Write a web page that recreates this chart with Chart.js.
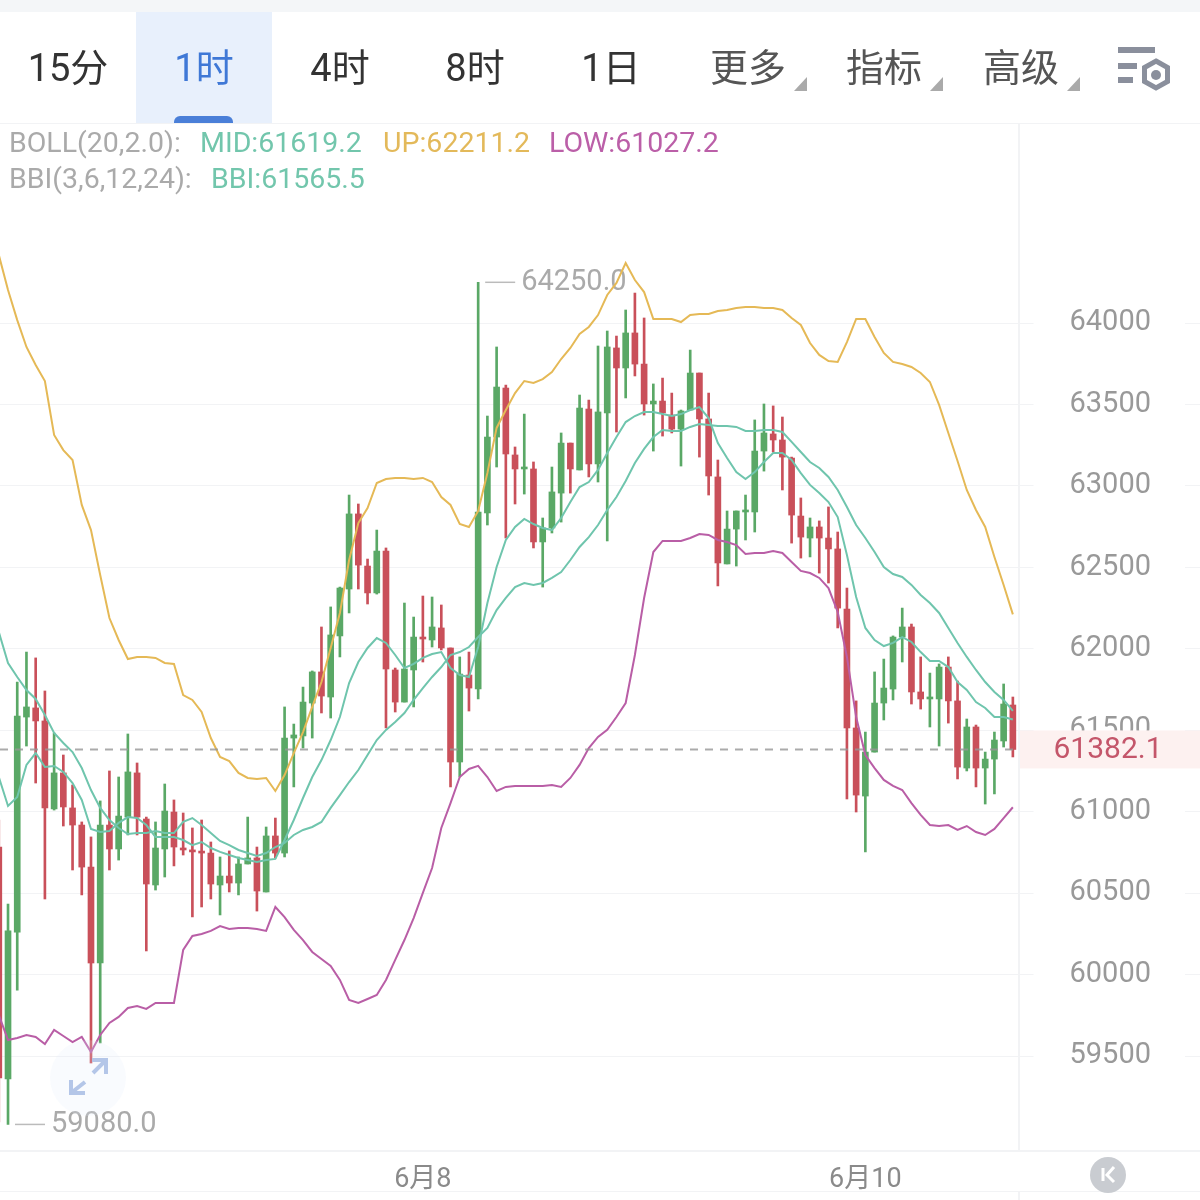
<!DOCTYPE html>
<html>
<head>
<meta charset="utf-8">
<title>BTC 1h</title>
<script src="https://cdn.jsdelivr.net/npm/chart.js@4/dist/chart.umd.js"></script>
<style>
  html, body { margin: 0; padding: 0; background: #fff; }
  #page {
    position: relative; width: 1200px; height: 1200px; overflow: hidden;
    font-family: Roboto, "Noto Sans CJK SC", sans-serif;
  }
  #kline { position: absolute; left: 0; top: 0; }
  .strip { position: absolute; left: 0; top: 0; width: 1200px; height: 12px; background: #f4f6f8; }
  .active { position: absolute; left: 136px; top: 12px; width: 136px; height: 111px; background: #e8f0fc; }
  .marker { position: absolute; left: 174px; top: 116px; width: 59px; height: 7px; background: #4a7fd8; border-radius: 6px 6px 0 0; }
  .rule { position: absolute; background: #f2f3f5; }
  .tab {
    position: absolute; top: 68px; transform: translate(-50%, -50%);
    font-size: 38px; line-height: 44px; color: #333; white-space: nowrap;
  }
  .tab.more { color: #555; }
  .tab.on { color: #3f78d6; }
  .legend { position: absolute; font-size: 28.5px; line-height: 34px; white-space: nowrap; }
  svg { position: absolute; left: 0; top: 0; pointer-events: none; }
</style>
</head>
<body>
<div id="page">
  <canvas id="kline" width="1200" height="1200"></canvas>

  <div class="strip"></div>
  <div class="active"></div>
  <div class="marker"></div>
  <div class="rule" style="left:0;top:123px;width:1200px;height:1px"></div>
  <div class="rule" style="left:0;top:1150px;width:1200px;height:2px"></div>
  <div class="rule" style="left:0;top:1191px;width:1200px;height:1px"></div>
  <div class="rule" style="left:1018px;top:123px;width:2px;height:1027px"></div>
  <div class="rule" style="left:1018px;top:1191px;width:2px;height:9px"></div>

  <div class="tab" style="left:68px">15分</div>
  <div class="tab on" style="left:204px">1时</div>
  <div class="tab" style="left:340px">4时</div>
  <div class="tab" style="left:475px">8时</div>
  <div class="tab" style="left:611px">1日</div>
  <div class="tab more" style="left:748px">更多</div>
  <div class="tab more" style="left:884px">指标</div>
  <div class="tab more" style="left:1021px">高级</div>

  <div class="legend" style="left:9px;top:126px;color:#aaa">BOLL(20,2.0):</div>
  <div class="legend" style="left:200px;top:126px;color:#72c6ac">MID:61619.2</div>
  <div class="legend" style="left:383px;top:126px;color:#e3b95a">UP:62211.2</div>
  <div class="legend" style="left:549px;top:126px;color:#bb5fa8">LOW:61027.2</div>
  <div class="legend" style="left:9px;top:162px;color:#aaa">BBI(3,6,12,24):</div>
  <div class="legend" style="left:211px;top:162px;color:#72c6ac">BBI:61565.5</div>

  <svg width="1200" height="1200">
    <!-- dropdown corners -->
    <polygon points="807,77 807,91 794,91" fill="#aaa"/>
    <polygon points="943,77 943,91 930,91" fill="#aaa"/>
    <polygon points="1080,77 1080,91 1067,91" fill="#aaa"/>
    <!-- settings icon -->
    <rect x="1118" y="47" width="37" height="6" fill="#8a8f9c"/>
    <rect x="1118" y="63" width="19" height="6" fill="#8a8f9c"/>
    <rect x="1118" y="77" width="15" height="6" fill="#8a8f9c"/>
    <polygon points="1156,61 1167.5,67.5 1167.5,81.5 1156,88 1144.5,81.5 1144.5,67.5" fill="none" stroke="#8a8f9c" stroke-width="5"/>
    <circle cx="1156" cy="75" r="5" fill="#8a8f9c"/>
    <!-- expand button -->
    <circle cx="88" cy="1078" r="38" fill="#e3ebfa" fill-opacity="0.22"/>
    <g fill="none" stroke="#b4c6e8" stroke-width="4">
      <path d="M92 1060 H106 V1074 M106 1060 L93 1073"/>
      <path d="M71 1080 V1093 H85 M71 1093 L85 1082"/>
    </g>
    <!-- collapse button -->
    <circle cx="1108" cy="1175" r="18" fill="#c9ccd1"/>
    <path d="M1103 1168 V1181" stroke="#fff" stroke-width="3" fill="none"/>
    <path d="M1114 1167 L1107 1175 L1114 1182" stroke="#fff" stroke-width="3" fill="none"/>
  </svg>
</div>

<script>
const opens = [
  60783, 59359, 60261, 61581, 61637, 61557, 61017, 61238, 61023, 60918,
  60660, 60071, 60918, 60771, 60967, 61238, 60955, 60550, 60771, 60998,
  60777, 60759, 60753, 60746, 60550, 60605, 60562, 60679, 60716, 60507,
  60851, 60746, 61452, 61465, 61667, 61858, 61704, 62079, 62367, 62828,
  62508, 62343, 62600, 61870, 61673, 61870, 62072, 62054, 62128, 62005,
  61305, 61839, 61753, 62834, 63300, 63601, 63190, 63104, 63104, 62656,
  62742, 62956, 63263, 63098, 63472, 63135, 63448, 63847, 63724, 63939,
  63748, 63503, 63521, 63435, 63349, 63466, 63693, 63411, 63055, 62521,
  62735, 62840, 62840, 63214, 63319, 63282, 63171, 62815, 62680, 62748,
  62680, 62613, 62244, 61514, 61096, 61366, 61667, 61753, 62072, 62134,
  61735, 61692, 61692, 61888, 61680, 61268, 61520, 61268, 61323, 61434, 61655
]
const closes = [
  59365, 60268, 61587, 61643, 61557, 61023, 61238, 61029, 60918, 60660,
  60071, 60918, 60771, 60973, 61244, 60967, 60556, 60777, 61004, 60783,
  60765, 60753, 60746, 60556, 60605, 60562, 60679, 60716, 60513, 60851,
  60746, 61452, 61471, 61673, 61858, 61710, 62085, 62373, 62828, 62514,
  62343, 62600, 61876, 61673, 61876, 62072, 62060, 62134, 62005, 61305,
  61845, 61759, 62840, 63300, 63607, 63196, 63104, 63110, 62656, 62742,
  62963, 63263, 63104, 63478, 63135, 63454, 63853, 63724, 63939, 63748,
  63503, 63521, 63448, 63349, 63460, 63693, 63411, 63061, 62527, 62735,
  62846, 62846, 63214, 63325, 63282, 63177, 62821, 62686, 62748, 62680,
  62613, 62250, 61514, 61102, 61366, 61667, 61759, 62072, 62134, 61735,
  61692, 61698, 61888, 61680, 61274, 61520, 61268, 61323, 61440, 61661, 61382.1
]
const highs = [
  60949, 60433, 61796, 61980, 61944, 61741, 61483, 61348, 61164, 60937,
  60845, 61066, 61250, 61213, 61477, 61299, 60967, 60937, 61170, 61072,
  60992, 60900, 60949, 60814, 60722, 60759, 60722, 60967, 60783, 60906,
  60961, 61643, 61538, 61765, 61864, 62134, 62257, 62379, 62944, 62889,
  62551, 62729, 62619, 61882, 62281, 62195, 62324, 62318, 62269, 62005,
  61950, 61980, 64250, 63429, 63853, 63619, 63239, 63441, 63147, 62803,
  63116, 63325, 63263, 63558, 63527, 63859, 63951, 63920, 64080, 64184,
  64031, 63626, 63662, 63570, 63466, 63834, 63693, 63570, 63159, 62846,
  62846, 62944, 63405, 63503, 63491, 63423, 63177, 62926, 62803, 62785,
  62871, 62717, 62373, 61680, 61489, 61858, 61937, 62079, 62250, 62152,
  61950, 61851, 61907, 61950, 61802, 61569, 61532, 61366, 61489, 61784, 61704
]
const lows = [
  59095, 59080, 59905, 61403, 61176, 60464, 61010, 60912, 60642, 60489,
  59457, 59580, 60642, 60703, 60857, 60857, 60145, 60519, 60599, 60667,
  60734, 60354, 60415, 60464, 60366, 60507, 60489, 60679, 60390, 60507,
  60716, 60722, 61152, 61391, 61452, 61606, 61575, 61950, 62220, 62367,
  62275, 62336, 61514, 61612, 61673, 61643, 61919, 62011, 61993, 61152,
  61213, 61618, 61692, 62760, 63116, 62680, 62889, 62950, 62619, 62379,
  62711, 62778, 62956, 63098, 63055, 63024, 62662, 63331, 63540, 63675,
  63435, 63214, 63306, 63325, 63122, 63466, 63177, 62944, 62386, 62521,
  62508, 62668, 62717, 63091, 63208, 62975, 62649, 62557, 62564, 62465,
  62404, 62128, 61078, 60998, 60753, 61366, 61563, 61686, 61919, 61661,
  61630, 61520, 61403, 61544, 61201, 61250, 61152, 61047, 61109, 61397, 61336
]

const bollUp = [
  64418, 64203, 64018, 63853, 63742, 63644, 63313, 63220, 63159, 62883,
  62729, 62453, 62189, 62054, 61937, 61950, 61950, 61944, 61913, 61907,
  61716, 61686, 61612, 61452, 61336, 61311, 61238, 61207, 61201, 61207,
  61127, 61225, 61360, 61489, 61643, 61796, 62005, 62220, 62545, 62772,
  62864, 63018, 63042, 63049, 63049, 63042, 63049, 63024, 62932, 62883,
  62766, 62748, 62846, 63079, 63356, 63466, 63570, 63644, 63632, 63656,
  63699, 63779, 63847, 63933, 63976, 64049, 64172, 64246, 64368, 64264,
  64190, 64025, 64025, 64025, 64006, 64049, 64055, 64055, 64074, 64080,
  64092, 64098, 64098, 64092, 64092, 64080, 64031, 63988, 63877, 63804,
  63767, 63761, 63883, 64025, 64025, 63914, 63816, 63761, 63748, 63730,
  63693, 63638, 63497, 63325, 63153, 62975, 62852, 62748, 62564, 62392, 62211.2
]
const bollMid = [
  62103, 61913, 61827, 61747, 61692, 61594, 61483, 61422, 61366, 61268,
  61133, 61023, 60949, 60900, 60863, 60869, 60869, 60881, 60869, 60869,
  60937, 60961, 60918, 60869, 60820, 60795, 60765, 60746, 60728, 60746,
  60783, 60808, 60857, 60888, 60906, 60937, 61023, 61102, 61182, 61256,
  61348, 61440, 61502, 61551, 61606, 61686, 61759, 61827, 61888, 61962,
  61980, 62011, 62072, 62128, 62238, 62312, 62379, 62404, 62392, 62404,
  62435, 62471, 62545, 62625, 62686, 62760, 62852, 62932, 63030, 63141,
  63227, 63300, 63343, 63337, 63337, 63362, 63380, 63374, 63368, 63368,
  63362, 63337, 63337, 63343, 63343, 63331, 63270, 63208, 63147, 63110,
  63055, 62975, 62871, 62760, 62680, 62594, 62502, 62459, 62441, 62392,
  62330, 62281, 62220, 62128, 62036, 61950, 61870, 61796, 61735, 61686, 61619.2
]
const bollLow = [
  59752, 59598, 59611, 59629, 59617, 59574, 59660, 59623, 59586, 59617,
  59525, 59629, 59703, 59740, 59795, 59807, 59789, 59826, 59826, 59826,
  60151, 60237, 60249, 60268, 60298, 60280, 60286, 60286, 60280, 60268,
  60415, 60353, 60274, 60212, 60139, 60096, 60053, 59967, 59844, 59826,
  59850, 59875, 59967, 60090, 60212, 60347, 60501, 60654, 60900, 61053,
  61213, 61262, 61281, 61213, 61127, 61152, 61158, 61158, 61158, 61158,
  61164, 61152, 61207, 61287, 61391, 61459, 61502, 61581, 61667, 61962,
  62312, 62594, 62662, 62662, 62662, 62680, 62705, 62699, 62668, 62656,
  62637, 62582, 62588, 62588, 62600, 62588, 62533, 62478, 62465, 62435,
  62373, 62226, 61950, 61581, 61348, 61268, 61195, 61158, 61133, 61053,
  60980, 60918, 60912, 60918, 60888, 60912, 60875, 60857, 60894, 60961, 61027.2
]
const bbi = [
  61213, 61035, 61090, 61287, 61360, 61274, 61281, 61244, 61176, 61072,
  60894, 60875, 60881, 60931, 60967, 60961, 60918, 60845, 60845, 60845,
  60826, 60795, 60814, 60777, 60753, 60734, 60716, 60703, 60691, 60703,
  60710, 60826, 60949, 61084, 61213, 61317, 61440, 61581, 61790, 61919,
  62005, 62066, 62036, 61962, 61882, 61907, 61944, 61968, 61980, 61882,
  61839, 61827, 62011, 62281, 62502, 62668, 62748, 62797, 62766, 62742,
  62729, 62803, 62901, 62993, 63024, 63098, 63202, 63300, 63392, 63429,
  63454, 63454, 63441, 63429, 63441, 63466, 63484, 63417, 63263, 63171,
  63085, 63042, 63085, 63147, 63202, 63202, 63159, 63079, 63006, 62956,
  62901, 62809, 62576, 62318, 62128, 62054, 62017, 62036, 62072, 62042,
  61980, 61925, 61925, 61888, 61796, 61747, 61673, 61637, 61581, 61581, 61565.5
]

const yTickValues = [59500, 60000, 60500, 61000, 61500, 62000, 62500, 63000, 63500, 64000]
const xTickIndexes = [46, 94]
const xTickLabels = ['6月8', '6月10']

const UP_COLOR = '#5aa866'
const DOWN_COLOR = '#c9505a'
const FONT = 'Roboto, "Noto Sans CJK SC", sans-serif'

const lastClose = closes[closes.length - 1]
const candleColors = closes.map((c, i) => (c >= opens[i] ? UP_COLOR : DOWN_COLOR))
const series = values => values.map((v, i) => ({x: i, y: v}))

// high / low tags next to the extreme wicks, last price tag on the axis
const overlayPlugin = {
  id: 'overlay',
  beforeDatasetsDraw(chart) {
    const {ctx, scales} = chart
    const drawTag = (index, value) => {
      const x = scales.x.getPixelForValue(index)
      const y = scales.y.getPixelForValue(value)
      ctx.save()
      ctx.strokeStyle = '#bbb'
      ctx.lineWidth = 1.5
      ctx.beginPath()
      ctx.moveTo(x + 7, y)
      ctx.lineTo(x + 37, y)
      ctx.stroke()
      ctx.fillStyle = '#aaa'
      ctx.font = '29px ' + FONT
      ctx.textBaseline = 'middle'
      ctx.fillText(value.toFixed(1), x + 43, y)
      ctx.restore()
    }
    const top = Math.max(...highs)
    const bottom = Math.min(...lows)
    drawTag(highs.indexOf(top), top)
    drawTag(lows.indexOf(bottom), bottom)
  },
  afterDraw(chart) {
    const {ctx, scales} = chart
    const y = scales.y.getPixelForValue(lastClose)
    ctx.save()
    ctx.fillStyle = '#fdf1f0'
    ctx.fillRect(1019, y - 19, 181, 38)
    ctx.fillStyle = '#c4566a'
    ctx.font = '30px ' + FONT
    ctx.textAlign = 'center'
    ctx.textBaseline = 'middle'
    ctx.fillText(lastClose.toFixed(1), 1108, y + 1)
    ctx.restore()
  }
}

const lineStyle = color => ({
  type: 'line',
  borderColor: color,
  borderWidth: 2,
  pointRadius: 0,
  tension: 0,
  order: 1
})

new Chart(document.getElementById('kline'), {
  type: 'bar',
  data: {
    datasets: [
      {
        label: 'wick',
        data: highs.map((h, i) => ({x: i, y: [lows[i], h]})),
        backgroundColor: candleColors,
        barThickness: 2,
        order: 3
      },
      {
        label: 'body',
        data: opens.map((o, i) => ({x: i, y: [o, closes[i]]})),
        backgroundColor: candleColors,
        barThickness: 6,
        minBarLength: 2,
        order: 2
      },
      {...lineStyle('#e5b956'), label: 'UP', data: series(bollUp)},
      {...lineStyle('#6fc5ad'), label: 'MID', data: series(bollMid)},
      {...lineStyle('#b95ea6'), label: 'LOW', data: series(bollLow)},
      {...lineStyle('#6fc5ad'), label: 'BBI', data: series(bbi)},
      {
        type: 'line',
        label: 'last',
        data: [{x: 0.13, y: lastClose}, {x: 110.5, y: lastClose}],
        borderColor: 'rgba(150,150,150,.8)',
        borderWidth: 2,
        borderDash: [8, 7],
        pointRadius: 0,
        order: 0
      }
    ]
  },
  options: {
    responsive: false,
    animation: false,
    layout: {padding: {top: 123}},
    datasets: {bar: {grouped: false}},
    plugins: {legend: {display: false}, tooltip: {enabled: false}},
    scales: {
      x: {
        type: 'linear',
        min: 0.13,
        max: 130.3,
        offset: false,
        grid: {display: false, offset: false},
        border: {display: false},
        afterBuildTicks: scale => {
          scale.ticks = xTickIndexes.map(value => ({value}))
        },
        afterFit: scale => {
          scale.height = 50
        },
        ticks: {
          autoSkip: false,
          maxRotation: 0,
          padding: 6,
          color: '#8a8a8a',
          font: {size: 27, family: FONT},
          callback: value => xTickLabels[xTickIndexes.indexOf(value)]
        }
      },
      y: {
        position: 'right',
        min: 58923,
        max: 65228,
        grid: {color: '#f2f3f5', lineWidth: 1, drawTicks: false},
        border: {display: false},
        afterBuildTicks: scale => {
          scale.ticks = yTickValues.map(value => ({value}))
        },
        afterFit: scale => {
          scale.width = 0
        },
        ticks: {
          mirror: true,
          padding: -49,
          color: '#999',
          font: {size: 29, family: FONT},
          showLabelBackdrop: true,
          backdropColor: '#fff',
          backdropPadding: {left: 36, right: 34, top: 0, bottom: 0},
          callback: value => String(value)
        }
      }
    }
  },
  plugins: [overlayPlugin]
})
</script>
</body>
</html>
